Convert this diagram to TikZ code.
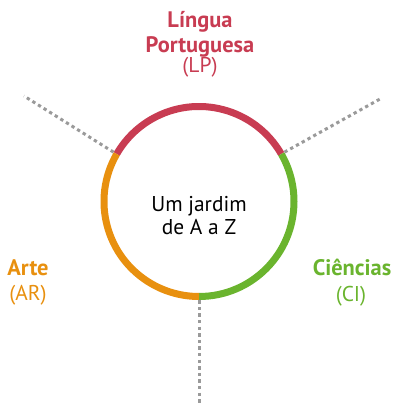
\documentclass[tikz,border=0pt]{standalone}
\usepackage{fontspec}
\setmainfont{PT Sans}
\definecolor{lpred}{HTML}{C83C52}
\definecolor{cigreen}{HTML}{6AB42E}
\definecolor{arorange}{HTML}{E8900F}
\definecolor{dotgray}{HTML}{9A9A9A}
\tikzset{
  ring/.style={line width=7bp},
  dotline/.style={dotgray, line width=3bp, dash pattern=on 3.3bp off 3.3bp},
  lbl/.style={anchor=base, inner sep=0pt, font=\fontsize{21.5}{24}\selectfont},
  lblb/.style={lbl, font=\fontsize{22.5}{24}\selectfont\bfseries},
}
\begin{document}
\begin{tikzpicture}[x=1bp,y=1bp]
\useasboundingbox (0,0) rectangle (394,404);
\node[circle, minimum size=197bp, inner sep=0pt] (c) at (199,202.5) {};
% ring arcs
\draw[ring, lpred] (c.center) ++(30:95) arc[start angle=30, end angle=150, radius=95];
\draw[ring, cigreen] (c.center) ++(-90:95) arc[start angle=-90, end angle=30, radius=95];
\draw[ring, arorange] (c.center) ++(150:95) arc[start angle=150, end angle=270, radius=95];
% dotted lines
\coordinate (ul) at (24,308);
\coordinate (ur) at (380,305);
\coordinate (bt) at (199,0);
\draw[dotline] (c.150) -- (ul);
\draw[dotline] (c.30) -- (ur);
\draw[dotline] (c.south) -- (bt);
% center text
\node[lbl] (t1) at (199,193) {Um jardim};
\node[lbl] (t2) at (199,170) {de A a Z};
% labels
\node[lblb, text=lpred] (lp1) at (200,377) {Língua};
\node[lblb, text=lpred] (lp2) at (200,352) {Portuguesa};
\node[lbl, text=lpred] (lp3) at (200,332) {(LP)};
\node[lblb, text=arorange] (ar1) at (28,129) {Arte};
\node[lbl, text=arorange] (ar2) at (28,104) {(AR)};
\node[lblb, text=cigreen] (ci1) at (352,129) {Ciências};
\node[lbl, text=cigreen] (ci2) at (351,103) {(CI)};
\end{tikzpicture}
\end{document}
